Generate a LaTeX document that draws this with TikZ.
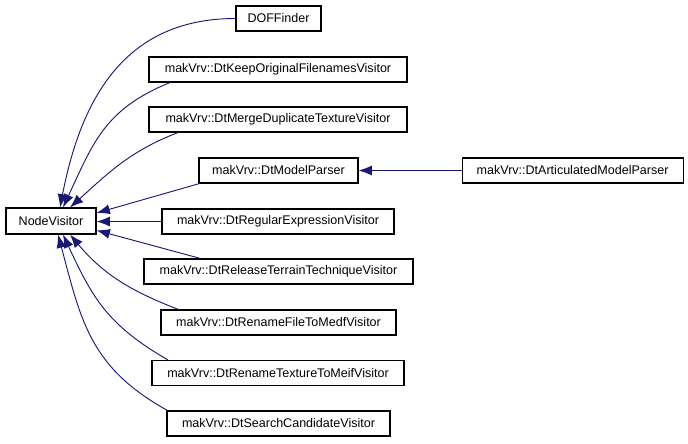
\documentclass[tikz,border=0pt]{standalone}
\usepackage{fontspec}
\setmainfont{Liberation Sans}
\usetikzlibrary{arrows.meta, positioning}
\definecolor{edgeblue}{HTML}{191970}

\begin{document}
\begin{tikzpicture}[x=0.75pt, y=-0.75pt]
\tikzstyle{cls}=[rectangle, draw=black, line width=0.8pt, fill=white, minimum height=18.75pt, inner sep=0pt, font=\fontsize{9.4}{11}\selectfont]
\tikzstyle{connect}=[-{Latex[length=10pt, width=7.5pt]}, draw=edgeblue, line width=0.7pt]
    \useasboundingbox (0,0) rectangle (688,443);
    \node[cls, minimum width=67.5pt, minimum height=19.5pt] (NV) at (51,221) {NodeVisitor};
    \node[cls, minimum width=63.75pt]  (DOF)     at (278.5,18.5)  {DOFFinder};
    \node[cls, minimum width=193.5pt]  (Keep)    at (278,69.5)    {makVrv::DtKeepOriginalFilenamesVisitor};
    \node[cls, minimum width=193.5pt]  (Merge)   at (278,119.5)   {makVrv::DtMergeDuplicateTextureVisitor};
    \node[cls, minimum width=119.25pt] (Model)   at (278.5,170.5) {makVrv::DtModelParser};
    \node[cls, minimum width=174pt]    (Regex)   at (278,221.5)   {makVrv::DtRegularExpressionVisitor};
    \node[cls, minimum width=201.75pt] (Release) at (278.5,271.5) {makVrv::DtReleaseTerrainTechniqueVisitor};
    \node[cls, minimum width=176.25pt] (RenFile) at (278.5,322.5) {makVrv::DtRenameFileToMedfVisitor};
    \node[cls, minimum width=189pt]    (RenTex)  at (278,373)     {makVrv::DtRenameTextureToMeifVisitor};
    \node[cls, minimum width=167.25pt] (Search)  at (278.5,423.5) {makVrv::DtSearchCandidateVisitor};
    \node[cls, minimum width=165.75pt] (Artic)   [right=77.25pt of Model] {makVrv::DtArticulatedModelParser};
    % inheritance edges, base class gets the arrow
    \draw[connect] (DOF.west) to[out=180, in=79, looseness=1.1] ([xshift=6.75pt]NV.north);
    \draw[connect] ([xshift=-81pt]Keep.south) to[out=202, in=65, looseness=1.1] ([xshift=9pt]NV.north);
    \draw[connect] ([xshift=-75pt]Merge.south) to[out=201, in=42] ([xshift=14.25pt]NV.north);
    \draw[connect] ([xshift=-59.25pt]Model.south) -- ([yshift=6pt]NV.east);
    \draw[connect] (Regex.west) -- ([yshift=-0.4pt]NV.east);
    \draw[connect] ([xshift=-58.5pt]Release.north) -- ([yshift=-7pt]NV.east);
    \draw[connect] ([xshift=-75pt]RenFile.north) to[out=159, in=-50] ([xshift=14.25pt]NV.south);
    \draw[connect] ([xshift=-82.5pt]RenTex.north) to[out=150, in=-65, looseness=1.1] ([xshift=9pt]NV.south);
    \draw[connect] ([xshift=-83.25pt]Search.north) to[out=151, in=-75, looseness=1.1] ([xshift=5.25pt]NV.south);
    \draw[connect] (Artic) -- (Model);
\end{tikzpicture}
\end{document}
